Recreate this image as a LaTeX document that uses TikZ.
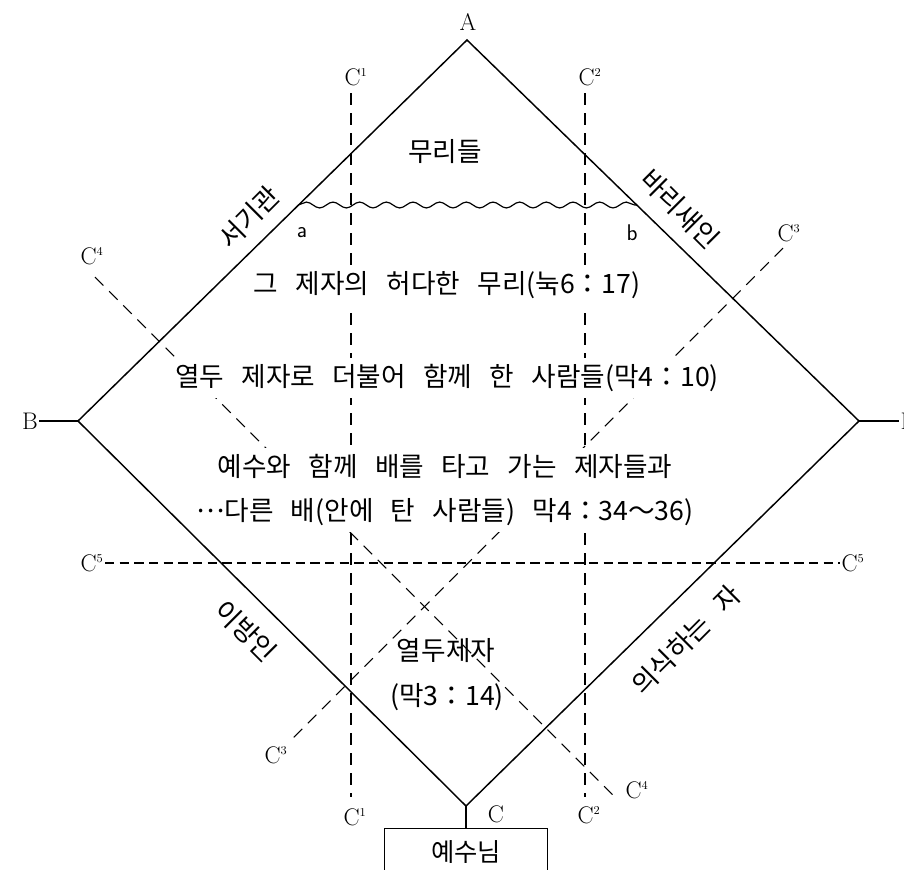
\documentclass[tikz,border=0pt]{standalone}
\usepackage{fontspec}
\newfontfamily\kr{Noto Sans CJK KR}[WordSpace=2.9]
\usetikzlibrary{decorations.pathmorphing}

\begin{document}
\begin{tikzpicture}[
    x=0.75pt, y=-0.75pt,
    edge/.style={line width=1.1pt},
    cline/.style={line width=0.8pt, dash pattern=on 9pt off 6pt},
    hline/.style={line width=0.8pt, dash pattern=on 7pt off 4pt},
    wave/.style={line width=0.9pt, decorate, decoration={snake, segment length=20pt, amplitude=2.2pt}},
    ktext/.style={font=\kr\fontsize{20pt}{33pt}\selectfont, fill=white, inner xsep=2pt, inner ysep=5pt, align=center},
    kword/.style={font=\kr\fontsize{20pt}{24pt}\selectfont, inner sep=1pt},
    edgelabel/.style={font=\kr\fontsize{20pt}{24pt}\selectfont, inner sep=1pt},
    letter/.style={font=\fontsize{18pt}{20pt}\selectfont, inner sep=1pt},
    smallletter/.style={font=\sffamily\fontsize{17pt}{20pt}\selectfont, inner sep=1pt},
    boxnode/.style={draw, line width=1pt, minimum width=122pt, minimum height=34.5pt, anchor=north, font=\kr\fontsize{19pt}{22pt}\selectfont}
]

\useasboundingbox (0,0) rectangle (904,869);
\clip (0,0) rectangle (904,869);
\fill[white] (0,0) rectangle (904,869);

% corners of the square
\coordinate (A) at (467,40);
\coordinate (B) at (78,421);
\coordinate (C) at (466,806);
\coordinate (D) at (859,421);

% dashed cuts
\coordinate (c1up) at (351,93);
\coordinate (c1dn) at (351,797);
\coordinate (c2up) at (585,93);
\coordinate (c2dn) at (585,797);
\coordinate (c3up) at (783,248);
\coordinate (c3dn) at (290,741);
\coordinate (c4up) at (95,277);
\coordinate (c4dn) at (617,799);

\draw[cline] (c1up) -- (c1dn);
\draw[cline] (c2up) -- (c2dn);
\draw[cline] (c3up) -- (c3dn);
\draw[cline] (c4up) -- (c4dn);

\node[letter] (c5l) at (92,563) {C$^{\scriptscriptstyle 5}$};
\node[letter] (c5r) at (853,563) {C$^{\scriptscriptstyle 5}$};
\draw[hline] (c5l.east) -- (c5r.west);

\node[letter] (c1t) at (356,77) {C$^{\scriptscriptstyle 1}$};
\node[letter] (c1b) at (355,817) {C$^{\scriptscriptstyle 1}$};
\node[letter] (c2t) at (590,77) {C$^{\scriptscriptstyle 2}$};
\node[letter] (c2b) at (589,815) {C$^{\scriptscriptstyle 2}$};
\node[letter] (c3t) at (789,233) {C$^{\scriptscriptstyle 3}$};
\node[letter] (c3b) at (276,755) {C$^{\scriptscriptstyle 3}$};
\node[letter] (c4t) at (92,256) {C$^{\scriptscriptstyle 4}$};
\node[letter] (c4b) at (637,790) {C$^{\scriptscriptstyle 4}$};

% the four sides
\draw[edge] (B) -- (A) -- (D) -- (C) -- cycle;

\node[edgelabel, rotate=45] (scribes) at (249,217) {서기관};
\node[edgelabel, rotate=-45] (pharisees) at (680,209) {바리새인};
\node[edgelabel, rotate=-45] (gentiles) at (246,631) {이방인};
\node[edgelabel, rotate=45] (conscious) at (686,640) {의식하는 자};

\node[letter] (lA) at (468,22) {A};
\node[letter] (lB) at (30,421) {B};
\node[letter] (lD) at (909,421) {D};
\draw[edge] (lB.east) -- (B);
\draw[edge] (D) -- (lD.west);

% wavy border a--b
\coordinate (wa) at (298,205);
\coordinate (wb) at (637,205);
\draw[wave] (wa) -- (wb);
\node[smallletter] (la) at (302,233) {a};
\node[smallletter] (lb) at (632,233) {b};

% texts inside
\node[kword] (crowds) at (445,152) {무리들};
\node[ktext, text height=16.5pt, text depth=3.5pt] (multitude) at (447,285) {그 제자의 허다한 무리(눅6：17)};
\node[ktext, text height=16.5pt, text depth=3.5pt] (withtwelve) at (447,378) {열두 제자로 더불어 함께 한 사람들(막4：10)};
\node[ktext] (boat) at (445,490) {예수와 함께 배를 타고 가는 제자들과\\\raisebox{.3em}{…}다른 배(안에 탄 사람들) 막4：34～36)};
\node[kword] (twelve) at (446,651) {열두제자};
\node[kword] (twelveref) at (447,697) {(막3：14)};

% bottom
\node[letter] (lC) at (496,814) {C};
\node[boxnode] (jesus) at (466,828) {예수님};
\draw[edge] (C) -- (jesus.north);

\end{tikzpicture}
\end{document}
